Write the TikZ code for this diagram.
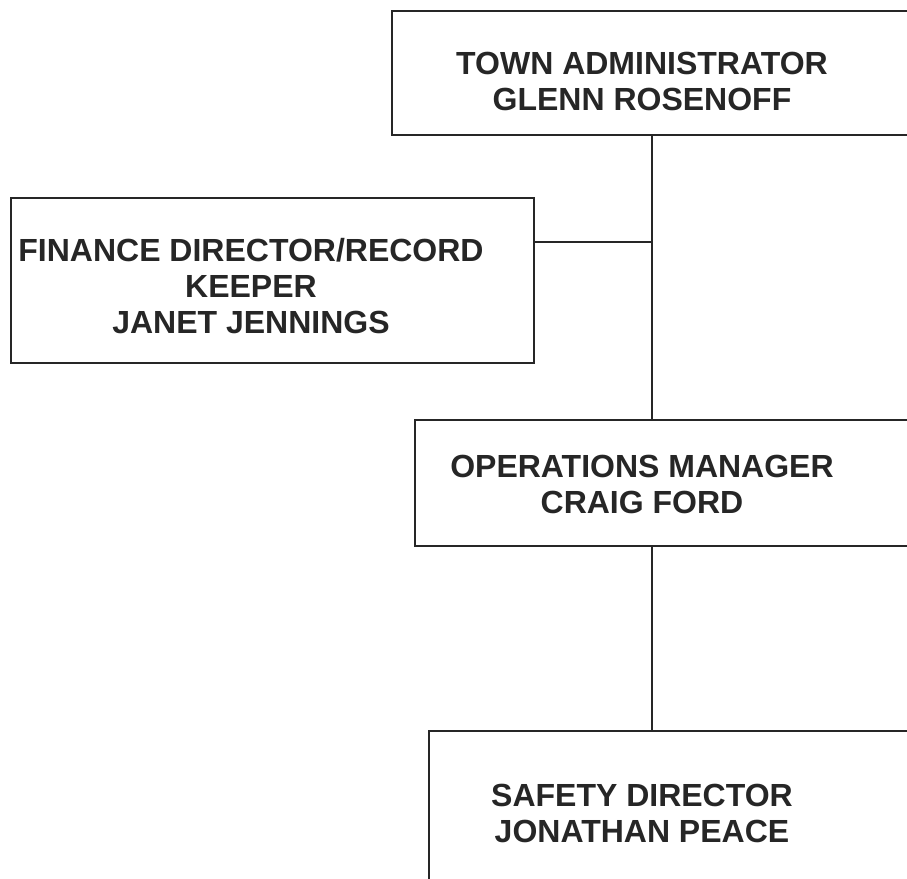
\documentclass[tikz,border=0pt]{standalone}
\usepackage{fontspec}
\setmainfont{Liberation Sans}
\begin{document}
\begin{tikzpicture}[x=1pt,y=-1pt,
        box/.style={draw=black!85,line width=1.8pt,inner sep=0pt,anchor=north west},
        txt/.style={font=\bfseries\fontsize{32}{36}\selectfont,text=black!85,align=center},
        link/.style={draw=black!85,line width=1.1pt}]
            \clip (0,0) rectangle (907,878);
            % boxes (cut off at the right edge)
            \node[box,minimum width=560pt,minimum height=124pt] (admin) at (391,10) {};
            \node[box,minimum width=523pt,minimum height=165pt] (finance) at (10,197) {};
            \node[box,minimum width=560pt,minimum height=126pt] (ops) at (414,419) {};
            \node[box,minimum width=560pt,minimum height=200pt] (safety) at (428,730) {};
            \node[txt] (admintxt) at (642,81) {TOWN ADMINISTRATOR\\GLENN ROSENOFF};
            \node[txt] (fintxt) at (251,286) {FINANCE DIRECTOR/RECORD\\KEEPER\\JANET JENNINGS};
            \node[txt] (opstxt) at (642,484) {OPERATIONS MANAGER\\CRAIG FORD};
            \node[txt] (safetytxt) at (642,813) {SAFETY DIRECTOR\\JONATHAN PEACE};
            % lines
            \coordinate (spine) at (652,0);
            \coordinate (tee) at (652,242);
            \draw[link] (admin.south -| spine) -- (ops.north -| spine);
            \draw[link] (finance.east |- tee) -- (tee);
            \draw[link] (ops.south -| spine) -- (safety.north -| spine);
        \end{tikzpicture}
\end{document}
